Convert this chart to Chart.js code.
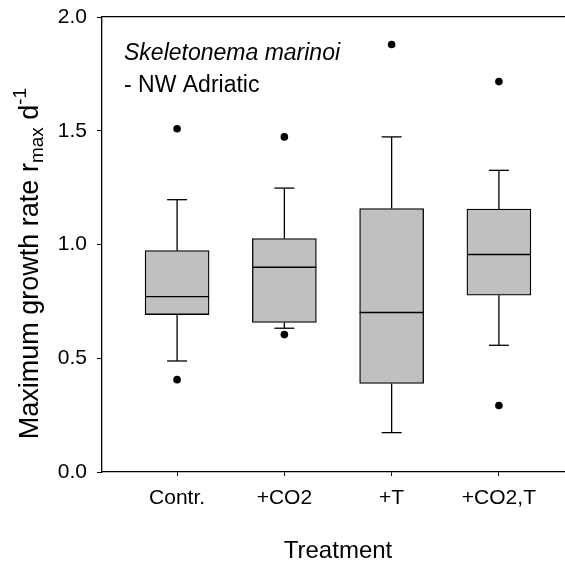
<!DOCTYPE html>
<html><head><meta charset="utf-8">
<script src="https://cdn.jsdelivr.net/npm/chart.js@4/dist/chart.umd.min.js"></script>
<style>html,body{margin:0;padding:0;overflow:hidden;background:#fff}</style>
</head><body>
<canvas id="c" width="576" height="562" style="display:block"></canvas>
<script>
const categories = ["Contr.", "+CO2", "+T", "+CO2,T"];
const whiskerLow = [0.488, 0.632, 0.173, 0.557];
const q1 = [0.692, 0.657, 0.389, 0.777];
const median = [0.771, 0.900, 0.701, 0.956];
const q3 = [0.973, 1.026, 1.158, 1.156];
const whiskerHigh = [1.197, 1.248, 1.473, 1.326];
const outliersLow = [0.406, 0.604, null, 0.292];
const outliersHigh = [1.509, 1.473, 1.879, 1.716];
const yTicks = [0, 0.5, 1.0, 1.5, 2.0];
const yTitleParts = [["Maximum growth rate r", "main"], ["max", "sub"], [" d", "main"], ["-1", "sup"]];
const annotationLines = [["Skeletonema marinoi", "italic"], ["- NW Adriatic", "normal"]];

const FAMILY = '"Liberation Sans", Arial, Helvetica, sans-serif';
Chart.defaults.font.family = FAMILY;
Chart.defaults.color = '#000';

const whiskerPts = [];
categories.forEach((c, i) => {
  whiskerPts.push({x: i + 1, y: q3[i]}, {x: i + 1, y: whiskerHigh[i]}, {x: i + 1, y: null},
                  {x: i + 1, y: whiskerLow[i]}, {x: i + 1, y: q1[i]}, {x: i + 1, y: null});
});
const capPts = [];
categories.forEach((c, i) => { capPts.push({x: i + 1, y: whiskerHigh[i]}, {x: i + 1, y: whiskerLow[i]}); });
const outlierPts = [];
categories.forEach((c, i) => {
  if (outliersLow[i] !== null) outlierPts.push({x: i + 1, y: outliersLow[i]});
  if (outliersHigh[i] !== null) outlierPts.push({x: i + 1, y: outliersHigh[i]});
});

const yTitlePlugin = {
  id: 'yTitle',
  afterDraw(chart) {
    const ctx = chart.ctx;
    const sizes = {main: 27, sub: 19, sup: 19};
    const shift = {main: 0, sub: 5, sup: -12};
    let total = 0;
    const parts = yTitleParts.map(([t, k]) => {
      ctx.font = sizes[k] + 'px ' + FAMILY;
      const w = ctx.measureText(t).width;
      total += w;
      return {t, k, w};
    });
    ctx.save();
    const cy = (chart.chartArea.top + chart.chartArea.bottom) / 2 + 19;
    ctx.translate(38, cy);
    ctx.rotate(-Math.PI / 2);
    ctx.fillStyle = '#000';
    ctx.textBaseline = 'alphabetic';
    ctx.textAlign = 'left';
    let x = -total / 2;
    parts.forEach(p => {
      ctx.font = sizes[p.k] + 'px ' + FAMILY;
      ctx.fillText(p.t, x, shift[p.k]);
      x += p.w;
    });
    ctx.restore();
  }
};

const annotationPlugin = {
  id: 'annot',
  afterDraw(chart) {
    const ctx = chart.ctx;
    const a = chart.chartArea;
    ctx.save();
    ctx.fillStyle = '#000';
    ctx.textBaseline = 'alphabetic';
    annotationLines.forEach(([t, style], i) => {
      ctx.font = (style === 'italic' ? 'italic ' : '') + '23px ' + FAMILY;
      ctx.fillText(t, a.left + 22, a.top + 42.5 + i * 32.5);
    });
    ctx.restore();
  }
};

new Chart(document.getElementById('c'), {
  type: 'bar',
  data: {
    datasets: [
      {type: 'scatter', data: outlierPts, pointRadius: 3.8, pointBackgroundColor: '#000', pointBorderWidth: 0, order: 0},
      {type: 'scatter', data: median.map((v, i) => ({x: i + 1, y: v})), pointStyle: 'line', pointRadius: 32, borderColor: '#000', pointBorderColor: '#000', pointBorderWidth: 1.3, order: 1},
      {type: 'scatter', data: capPts, pointStyle: 'line', pointRadius: 10, pointBorderColor: '#000', pointBorderWidth: 1.3, order: 2},
      {type: 'scatter', data: whiskerPts, showLine: true, spanGaps: false, pointRadius: 0, borderColor: '#000', borderWidth: 1.3, order: 3},
      {type: 'bar', data: categories.map((c, i) => ({x: i + 1, y: [q1[i], q3[i]]})), backgroundColor: '#c0c0c0', borderColor: '#000', borderWidth: 1.3, borderSkipped: false, barThickness: 64, order: 4}
    ]
  },
  options: {
    responsive: false,
    animation: false,
    events: [],
    layout: {autoPadding: false, padding: {top: 17, right: 2, left: 0, bottom: 0}},
    plugins: {legend: {display: false}, tooltip: {enabled: false}},
    scales: {
      x: {
        type: 'linear', position: 'bottom', min: 0.3, max: 4.7, offset: false,
        afterFit(s) { s.height = 90; s.paddingLeft = 0; s.paddingRight = 0; },
        afterBuildTicks(s) { s.ticks = categories.map((c, i) => ({value: i + 1})); },
        ticks: {callback: (v) => categories[Math.round(v) - 1], font: {size: 21}, color: '#000', padding: 10, maxRotation: 0, autoSkip: false},
        grid: {offset: false, drawOnChartArea: false, drawTicks: true, tickLength: 4, color: '#000', lineWidth: 1},
        border: {color: '#000', width: 1.3},
        title: {display: true, text: 'Treatment', font: {size: 24, lineHeight: 0.9}, color: '#000', padding: {top: 0, bottom: 0}}
      },
      x2: {
        type: 'linear', position: 'top', min: 0.3, max: 4.7, offset: false,
        ticks: {display: false}, grid: {display: false, offset: false},
        border: {color: '#000', width: 1.3},
        afterFit(s) { s.height = 0; s.paddingLeft = 0; s.paddingRight = 0; }
      },
      y: {
        min: 0, max: 2,
        afterBuildTicks(s) { s.ticks = yTicks.map(v => ({value: v})); },
        afterFit(s) { s.width = 102; s.paddingTop = 0; s.paddingBottom = 0; },
        ticks: {callback: (v) => Number(v).toFixed(1), font: {size: 21}, color: '#000', padding: 10},
        grid: {drawOnChartArea: false, tickLength: 5, color: '#000', lineWidth: 1},
        border: {color: '#000', width: 1.3}
      }
    }
  },
  plugins: [yTitlePlugin, annotationPlugin]
});
</script>
</body></html>
